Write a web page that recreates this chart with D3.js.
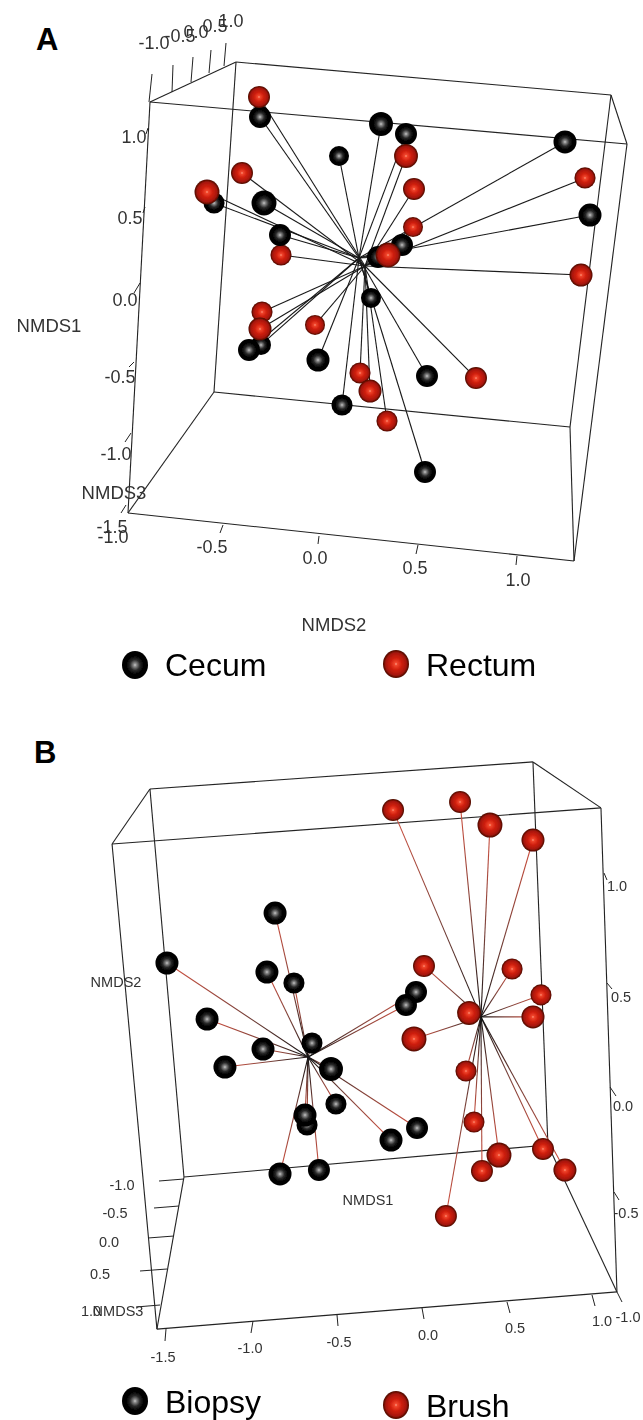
<!DOCTYPE html>
<html>
<head>
<meta charset="utf-8">
<style>
  html, body { margin: 0; padding: 0; background: #fff; }
  text { font-family: "Liberation Sans", Arial, sans-serif; }
</style>
<script src="https://cdn.jsdelivr.net/npm/d3@7"></script>
</head>
<body>
<div id="chart"></div>
<script>
// each point: [horizontal axis, vertical axis, depth]
var cecum = [[-0.29,1.144,-0.15],[0.315,1.1,0.4],[0.44,1.038,-0.15],[0.105,0.9,-0.7],[1.235,0.988,0.15],
  [-0.52,0.606,-0.4],[-0.27,0.606,0.7],[1.36,0.531,0.15],[-0.19,0.406,-0.15],[0.42,0.344,-0.15],
  [0.3,0.269,-0.15],[0.265,0.013,-0.7],[-0.285,-0.281,-0.7],[-0.345,-0.313,-0.15],[0,-0.375,0.15],
  [0.545,-0.475,-0.15],[0.12,-0.656,-0.4],[0.535,-1.075,-0.15]];
var rectum = [[-0.295,1.269,-0.15],[0.44,0.9,0.4],[-0.38,0.794,-0.15],[1.335,0.763,-0.4],[0.48,0.694,-0.15],
  [-0.555,0.675,0.7],[0.475,0.456,-0.7],[0.35,0.281,0.7],[-0.185,0.281,-0.4],[1.315,0.156,0.15],
  [-0.28,-0.075,-0.4],[-0.015,-0.156,-0.7],[-0.29,-0.181,0.15],[0.21,-0.456,-0.4],[0.79,-0.488,-0.15],
  [0.26,-0.569,0.15],[0.345,-0.756,-0.4]];
var biopsy = [[-0.876,0.877,0.15],[-1.512,0.65,0.15],[-0.924,0.609,0.15],[-0.765,0.559,-0.4],[-0.047,0.518,-0.15],
  [-0.106,0.459,-0.15],[-1.276,0.395,0.15],[-0.659,0.286,-0.4],[-0.947,0.259,0.15],[-1.171,0.177,0.15],
  [-0.547,0.168,0.4],[-0.518,0.009,-0.4],[-0.7,-0.041,0.15],[-0.688,-0.086,-0.4],[-0.041,-0.1,-0.15],
  [-0.194,-0.155,0.15],[-0.618,-0.291,-0.15],[-0.847,-0.309,0.15]];
var brush = [[-0.182,1.345,-0.15],[0.212,1.382,-0.15],[0.388,1.277,0.7],[0.641,1.209,0.15],[0,0.636,-0.15],
  [0.518,0.623,-0.4],[0.688,0.505,-0.4],[0.265,0.423,0.4],[0.641,0.405,0.15],[-0.059,0.305,0.7],
  [0.247,0.159,-0.4],[0.294,-0.073,-0.4],[0.441,-0.223,0.7],[0.7,-0.195,-0.15],[0.341,-0.295,-0.15],
  [0.829,-0.291,0.15],[0.129,-0.5,-0.15]];

// group centroids the spokes run to
var hubCecum = [0.205,0.2625], hubRectum = [0.235,0.2125];
var hubBiopsy = [-0.682,0.223], hubBrush = [0.335,0.405];

// box edges, [from, to] in the plot's own units
var boxA = [[[-0.84,1.2375],[1.545,0.975]],[[-0.84,1.2375],[-0.41,1.4875]],[[-0.41,1.4875],[1.465,1.281]],
  [[1.465,1.281],[1.545,0.975]],[[-0.84,1.2375],[-0.95,-1.331]],[[-0.41,1.4875],[-0.52,-0.575]],
  [[-0.52,-0.575],[1.26,-0.794]],[[1.465,1.281],[1.26,-0.794]],[[1.545,0.975],[1.28,-1.631]],
  [[-0.95,-1.331],[1.28,-1.631]],[[-0.95,-1.331],[-0.52,-0.575]],[[1.26,-0.794],[1.28,-1.631]]];
var boxB = [[[-1.612,1.441],[0.641,1.564]],[[0.641,1.564],[1.041,1.355]],[[1.041,1.355],[-1.835,1.191]],
  [[-1.835,1.191],[-1.612,1.441]],[[-1.835,1.191],[-1.571,-1.014]],[[-1.612,1.441],[-1.412,-0.323]],
  [[1.041,1.355],[1.135,-0.845]],[[0.641,1.564],[0.729,-0.177]],[[-1.412,-0.323],[0.729,-0.177]],
  [[-1.571,-1.014],[1.135,-0.845]],[[-1.571,-1.014],[-1.412,-0.323]],[[1.135,-0.845],[0.729,-0.177]]];

// tick labels
var ticksTop = ["-1.0","-0.5","0.0","0.5","1.0"];
var ticksLeftA = ["1.0","0.5","0.0","-0.5","-1.0","-1.5"];
var ticksBottomA = ["-1.0","-0.5","0.0","0.5","1.0"];
var ticksRightB = ["1.0","0.5","0.0","-0.5","-1.0"];
var ticksLeftB = ["-1.0","-0.5","0.0","0.5","1.0"];
var ticksBottomB = ["-1.5","-1.0","-0.5","0.0","0.5","1.0"];

var svg = d3.select("#chart").append("svg").attr("width", 643).attr("height", 1420);
var defs = svg.append("defs");

defs.append("filter").attr("id", "soft").attr("x", "-5%").attr("y", "-5%").attr("width", "110%").attr("height", "110%")
  .append("feGaussianBlur").attr("stdDeviation", 0.45);

function ball(id, stops) {
  var g = defs.append("radialGradient").attr("id", id).attr("cx", "50%").attr("cy", "50%").attr("r", "50%");
  stops.forEach(function(s) { g.append("stop").attr("offset", s[0]).attr("stop-color", s[1]); });
}
ball("ballBlack", [[0,"#c8c8c8"],[0.12,"#8a8a8a"],[0.38,"#2a2a2a"],[0.62,"#060606"],[1,"#000"]]);
ball("ballRed", [[0,"#ff9a80"],[0.12,"#f0452c"],[0.42,"#d0200f"],[0.78,"#a81608"],[1,"#4a0a04"]]);

var rScale = d3.scaleLinear().domain([-1, 1]).range([9.5, 13]);
var gradN = 0;

function panel(o) {
  var g = svg.append("g").attr("filter", "url(#soft)");
  var x = o.x, y = o.y;

  g.selectAll("line.box").data(o.box).enter().append("line").attr("class", "box")
    .attr("x1", function(d) { return x(d[0][0]); }).attr("y1", function(d) { return y(d[0][1]); })
    .attr("x2", function(d) { return x(d[1][0]); }).attr("y2", function(d) { return y(d[1][1]); })
    .attr("stroke", "#222").attr("stroke-width", 1.1);

  o.axes.forEach(function(a) { axis(g, a); });

  var all = [];
  o.groups.forEach(function(s) {
    s.pts.forEach(function(p) { all.push({p: p, hub: s.hub, fill: s.fill}); });
  });

  g.selectAll("line.spoke").data(all).enter().append("line").attr("class", "spoke")
    .attr("x1", function(d) { return x(d.hub[0]); }).attr("y1", function(d) { return y(d.hub[1]); })
    .attr("x2", function(d) { return x(d.p[0]); }).attr("y2", function(d) { return y(d.p[1]); })
    .attr("stroke-width", 1.1)
    .attr("stroke", function(d) {
      if (!o.redSpokes) return "#1a1a1a";
      var id = "spoke" + (gradN++);
      var lg = defs.append("linearGradient").attr("id", id).attr("gradientUnits", "userSpaceOnUse")
        .attr("x1", x(d.hub[0])).attr("y1", y(d.hub[1])).attr("x2", x(d.p[0])).attr("y2", y(d.p[1]));
      lg.append("stop").attr("offset", 0).attr("stop-color", "#111");
      lg.append("stop").attr("offset", 0.45).attr("stop-color", "#7a4038");
      lg.append("stop").attr("offset", 1).attr("stop-color", "#d2503f");
      return "url(#" + id + ")";
    });

  all.sort(function(a, b) { return a.p[2] - b.p[2]; });
  g.selectAll("circle.pt").data(all).enter().append("circle").attr("class", "pt")
    .attr("cx", function(d) { return x(d.p[0]); })
    .attr("cy", function(d) { return y(d.p[1]); })
    .attr("r", function(d) { return rScale(d.p[2]); })
    .attr("fill", function(d) { return "url(#" + d.fill + ")"; });
}

// axes of the box are slanted, so tick ends run through scales that return [x, y]
function axis(g, a) {
  var idx = a.labels.map(function(d, i) { return i; });
  var start = d3.scaleLinear().domain(idx).range(a.start);
  var end = d3.scaleLinear().domain(idx).range(a.end);
  var lab = d3.scaleLinear().domain(idx).range(a.at);
  g.selectAll(null).data(idx.filter(function(i) { return a.start[i] != null; })).enter().append("line")
    .attr("x1", function(i) { return start(i)[0]; }).attr("y1", function(i) { return start(i)[1]; })
    .attr("x2", function(i) { return end(i)[0]; }).attr("y2", function(i) { return end(i)[1]; })
    .attr("stroke", "#222").attr("stroke-width", 1);
  g.selectAll(null).data(idx).enter().append("text")
    .attr("x", function(i) { return lab(i)[0]; }).attr("y", function(i) { return lab(i)[1]; })
    .attr("text-anchor", "middle").attr("dominant-baseline", "central")
    .attr("font-size", a.size).attr("fill", "#333")
    .text(function(i) { return a.labels[i]; });
}

panel({
  x: d3.scaleLinear().domain([0, 1]).range([318, 518]),
  y: d3.scaleLinear().domain([0, 1]).range([300, 140]),
  box: boxA,
  redSpokes: false,
  groups: [{pts: cecum, hub: hubCecum, fill: "ballBlack"}, {pts: rectum, hub: hubRectum, fill: "ballRed"}],
  axes: [
    {labels: ticksTop, size: 18,
     start: [[149,102],[172,92],[191,82],[209,73],[224,66]],
     end: [[152,74],[173,65],[193,57],[211,50],[226,43]],
     at: [[154,43],[180,36],[196,32],[215,26],[231,21]]},
    {labels: ticksLeftA, size: 18,
     start: [[148,128],[145,207],[140,283],[134,362],[131,433],[126,505]],
     end: [[146,134],[143,213],[134,293],[129,367],[125,442],[121,513]],
     at: [[134,137],[130,218],[125,300],[120,377],[116,454],[112,527]]},
    {labels: ticksBottomA, size: 18,
     start: [[128,513],[223,525],[319,536],[418,545],[517,556]],
     end: [[128,513],[220,533],[318,544],[416,554],[516,565]],
     at: [[113,537],[212,547],[315,558],[415,568],[518,580]]}
  ]
});

panel({
  x: d3.scaleLinear().domain([0, 1]).range([424, 594]),
  y: d3.scaleLinear().domain([0, 1]).range([1106, 886]),
  box: boxB,
  redSpokes: true,
  groups: [{pts: biopsy, hub: hubBiopsy, fill: "ballBlack"}, {pts: brush, hub: hubBrush, fill: "ballRed"}],
  axes: [
    {labels: ticksRightB, size: 14.5,
     start: [[604,873],[607,983],[610,1087],[614,1192],[617,1292]],
     end: [[607,880],[612,989],[616,1096],[619,1200],[622,1302]],
     at: [[617,886],[621,997],[623,1106],[626,1213],[628,1317]]},
    {labels: ticksLeftB, size: 14.5,
     start: [[184,1179],[179,1206],[174,1236],[167,1269],[160,1305]],
     end: [[159,1181],[154,1208],[148,1238],[140,1271],[136,1307]],
     at: [[122,1185],[115,1213],[109,1242],[100,1274],[91,1311]]},
    {labels: ticksBottomB, size: 14.5,
     start: [[166,1329],[253,1321],[337,1315],[422,1308],[507,1302],[592,1295]],
     end: [[165,1341],[251,1333],[338,1326],[424,1319],[510,1313],[595,1306]],
     at: [[163,1357],[250,1348],[339,1342],[428,1335],[515,1328],[602,1321]]}
  ]
});

// axis titles
var titles = [["NMDS1",49,325,18.5],["NMDS3",114,492,18.5],["NMDS2",334,624,18.5],
  ["NMDS2",116,982,14.5],["NMDS1",368,1200,14.5],["NMDS3",118,1311,14.5]];
svg.append("g").attr("filter", "url(#soft)").selectAll("text").data(titles).enter().append("text")
  .attr("x", function(d) { return d[1]; }).attr("y", function(d) { return d[2]; })
  .attr("font-size", function(d) { return d[3]; })
  .attr("text-anchor", "middle").attr("dominant-baseline", "central").attr("fill", "#333")
  .text(function(d) { return d[0]; });

// panel letters
var letters = [["A",36,50],["B",34,763]];
svg.selectAll("text.letter").data(letters).enter().append("text").attr("class", "letter")
  .attr("x", function(d) { return d[1]; }).attr("y", function(d) { return d[2]; })
  .attr("font-size", 31).attr("font-weight", "bold").attr("fill", "#000")
  .text(function(d) { return d[0]; });

// legends
var legend = [["Cecum","ballBlack",135,665,165,676],["Rectum","ballRed",396,664,426,676],
  ["Biopsy","ballBlack",135,1401,165,1413],["Brush","ballRed",396,1405,426,1417]];
var lg = svg.append("g").attr("filter", "url(#soft)");
lg.selectAll("ellipse").data(legend).enter().append("ellipse")
  .attr("cx", function(d) { return d[2]; }).attr("cy", function(d) { return d[3]; })
  .attr("rx", 13).attr("ry", 14)
  .attr("fill", function(d) { return "url(#" + d[1] + ")"; });
lg.selectAll("text").data(legend).enter().append("text")
  .attr("x", function(d) { return d[4]; }).attr("y", function(d) { return d[5]; })
  .attr("font-size", 32).attr("fill", "#000")
  .text(function(d) { return d[0]; });
</script>
</body>
</html>
